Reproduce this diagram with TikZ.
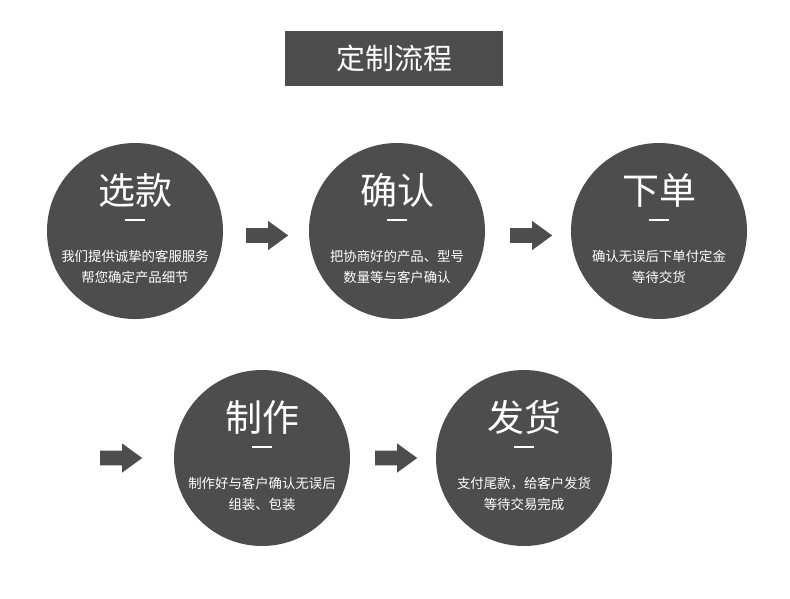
\documentclass[tikz,border=0pt]{standalone}
\usepackage{fontspec}
\setmainfont{Noto Sans CJK SC}
\usetikzlibrary{shapes.arrows}
\definecolor{darkgrey}{HTML}{4D4D4D}
\tikzset{
  disc/.style={circle, fill=darkgrey, minimum size=176pt, inner sep=0pt},
  heading/.style={text=white, inner sep=0pt, font=\fontsize{37pt}{40pt}\selectfont},
  blurb/.style={text=white, inner sep=0pt, align=center, font=\fontsize{13.4pt}{21.5pt}\selectfont},
  bar/.style={fill=white, minimum width=20pt, minimum height=2pt, inner sep=0pt},
  pointer/.style={single arrow, fill=darkgrey, inner sep=7pt, text width=0pt,
    minimum width=29pt, minimum height=42pt, single arrow tip angle=72, anchor=tail}
}
\begin{document}
\begin{tikzpicture}[x=1pt, y=-1pt]
    \fill[white] (0,0) rectangle (790,598);
    \node[fill=darkgrey, text=white, minimum width=218pt, minimum height=55pt,
      font=\fontsize{29pt}{32pt}\selectfont] (title) at (394,58) {定制流程};
    % circles
    \node[disc] (c1) at (135,231) {};
    \node[disc] (c2) at (397,231) {};
    \node[disc] (c3) at (659,231) {};
    \node[disc] (c4) at (262,458) {};
    \node[disc] (c5) at (524,458) {};
    % headings
    \node[heading] (h1) at (135,190) {选款};
    \node[heading] (h2) at (397,190) {确认};
    \node[heading] (h3) at (659,190) {下单};
    \node[heading] (h4) at (262,417) {制作};
    \node[heading] (h5) at (524,417) {发货};
    \foreach \n/\x/\y in {b1/135/220, b2/397/220, b3/659/220, b4/262/447, b5/524/447}
        \node[bar] (\n) at (\x,\y) {};
    % texts
    \node[blurb] (t1) at (135,267) {我们提供诚挚的客服服务\\帮您确定产品细节};
    \node[blurb] (t2) at (397,267) {把协商好的产品、型号\\数量等与客户确认};
    \node[blurb] (t3) at (659,267) {确认无误后下单付定金\\等待交货};
    \node[blurb] (t4) at (262,494) {制作好与客户确认无误后\\组装、包装};
    \node[blurb] (t5) at (524,494) {支付尾款，给客户发货\\等待交易完成};
    % arrows
    \node[pointer] (a1) at (246,235.5) {};
    \node[pointer] (a2) at (510,235.5) {};
    \node[pointer] (a3) at (100,458) {};
    \node[pointer] (a4) at (375,458) {};
\end{tikzpicture}
\end{document}
